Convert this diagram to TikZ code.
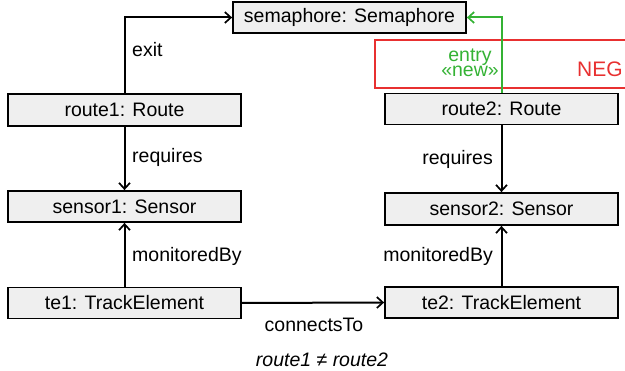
\documentclass[tikz,border=0pt]{standalone}
\usepackage{fontspec}
\setmainfont{Liberation Sans}
\usetikzlibrary{arrows.meta}
\definecolor{objfill}{RGB}{239,239,239}
\definecolor{negred}{RGB}{232,48,48}
\definecolor{newgreen}{RGB}{52,178,52}
\tikzset{
  txt/.style={font=\fontsize{19.5}{22}\selectfont, inner sep=0pt},
  obj/.style={txt, draw=black, line width=1.8pt, fill=objfill,
              minimum width=233pt, minimum height=31pt},
  link/.style={line width=2pt, -{Straight Barb[length=6pt,width=11pt,line width=1.7pt]}},
  lbl/.style={txt, anchor=base west},
  lblr/.style={txt, anchor=base east},
}
\begin{document}
\begin{tikzpicture}[x=1pt,y=-1pt]
\useasboundingbox (0,0) rectangle (625,371);

% NEG frame, running past the right edge
\begin{scope}
  \clip (0,0) rectangle (625,371);
  \draw[negred, line width=1.8pt] (375,40) rectangle (660,88);
  \node[txt, anchor=base west, text=negred, font=\fontsize{21}{24}\selectfont] (neg) at (577,77) {NEG};
\end{scope}

% objects
\node[obj] (sem) at (349.5,17.5) {semaphore: Semaphore};
\node[obj, minimum height=32pt] (r1) at (124.5,110) {route1: Route};
\node[obj] (s1) at (124.5,206.5) {sensor1: Sensor};
\node[obj] (t1) at (124.5,303) {te1: TrackElement};
\node[obj] (r2) at (501.5,109) {route2: Route};
\node[obj, minimum height=32pt] (s2) at (501.5,209) {sensor2: Sensor};
\node[obj] (t2) at (501.5,302.5) {te2: TrackElement};

% links
\draw[link] (r1.north) |- (sem.west);
\draw[link] (r1.south) -- (s1.north);
\draw[link] (t1.north) -- (s1.south);
\draw[link] (t1.east) -- (t2.west);
\draw[link] (r2.south) -- (s2.north);
\draw[link] (t2.north) -- (s2.south);
\draw[link, newgreen] (r2.north) |- (sem.east);

% link labels
\node[lbl] (lexit) at (132,57) {exit};
\node[lbl] (lreq1) at (132,163) {requires};
\node[lbl] (lmon1) at (132,262) {monitoredBy};
\node[lblr] (lreq2) at (493,165) {requires};
\node[lblr] (lmon2) at (493,262) {monitoredBy};
\node[txt, anchor=base] (lcon) at (314,332) {connectsTo};
\node[txt, text=newgreen, align=center, anchor=base,
      font=\fontsize{19.5}{14}\selectfont] (lentry) at (470,77) {entry\\«new»};

% condition
\node[txt, anchor=base, font=\fontsize{19.5}{22}\selectfont\itshape] (cond) at (322,367) {route1 ≠ route2};
\end{tikzpicture}
\end{document}
